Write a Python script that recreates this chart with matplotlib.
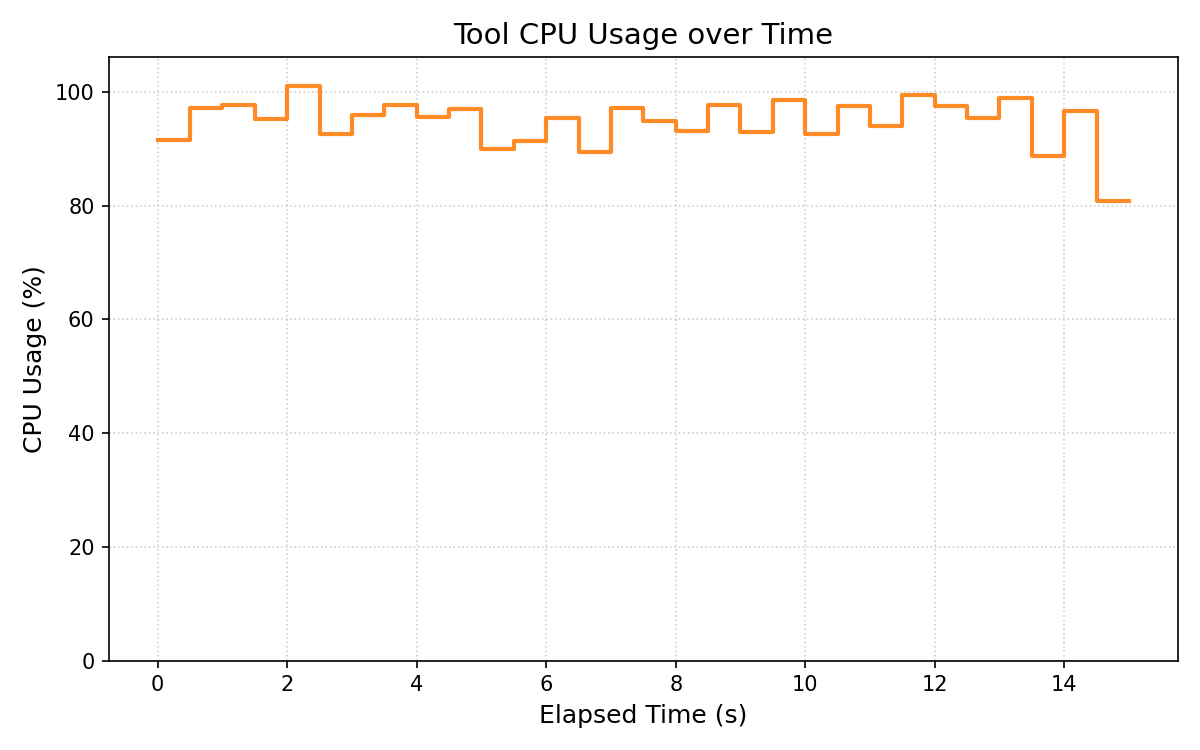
import numpy as np
import matplotlib
matplotlib.use("Agg")
import matplotlib.pyplot as plt

# elapsed time samples (s) and tool CPU usage (%)
elapsed = [0.0, 0.5, 1.0, 1.5, 2.0, 2.5, 3.0, 3.5, 4.0, 4.5,
           5.0, 5.5, 6.0, 6.5, 7.0, 7.5, 8.0, 8.5, 9.0, 9.5,
           10.0, 10.5, 11.0, 11.5, 12.0, 12.5, 13.0, 13.5, 14.0, 14.5, 15.0]
cpu_usage = [91.5, 97.2, 97.7, 95.3, 101.1, 92.6, 95.9, 97.7, 95.6, 97.0,
             89.9, 91.3, 95.4, 89.5, 97.2, 94.9, 93.2, 97.7, 92.9, 98.6,
             92.6, 97.6, 94.1, 99.5, 97.6, 95.4, 98.9, 88.7, 96.7, 80.8, 80.8]

fig, ax = plt.subplots(figsize=(8, 5), dpi=150)
ax.step(elapsed, cpu_usage, where="post", color="tab:orange", alpha=0.9, linewidth=2)
ax.set_ylim(0, max(cpu_usage) * 1.05)
ax.set_title("Tool CPU Usage over Time", fontsize=14)
ax.set_xlabel("Elapsed Time (s)", fontsize=12)
ax.set_ylabel("CPU Usage (%)", fontsize=12)
ax.grid(True, linestyle=":", alpha=0.6)
fig.tight_layout()
fig.savefig("out.png")
